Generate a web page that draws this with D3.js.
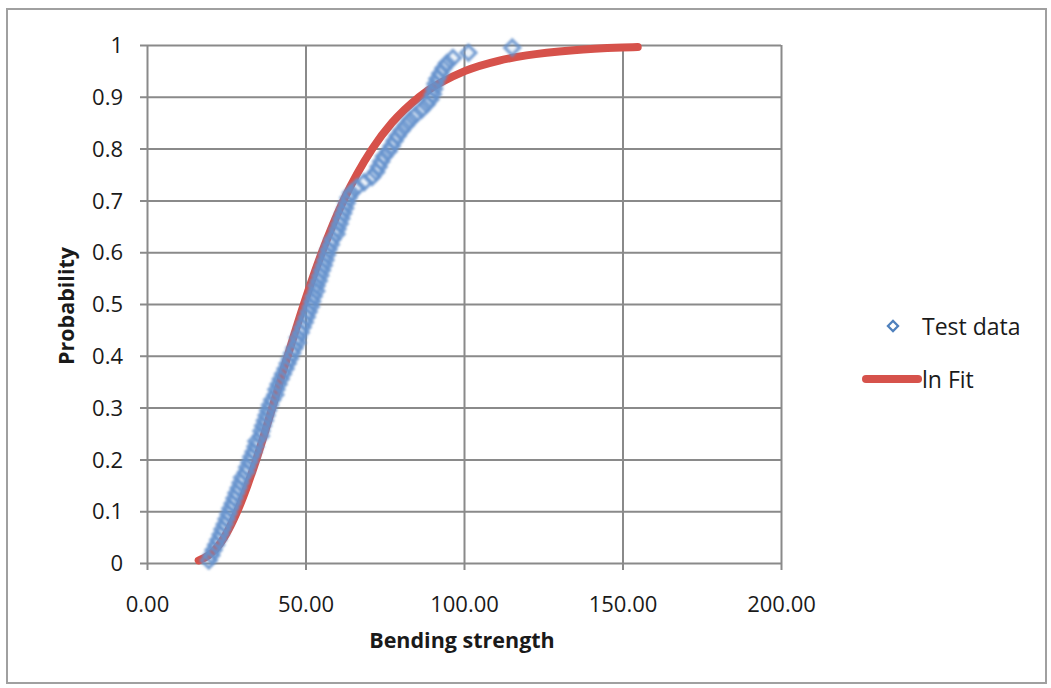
<!DOCTYPE html>
<html>
<head>
<meta charset="utf-8">
<script src="https://cdn.jsdelivr.net/npm/d3@7"></script>
<style>
  body { margin: 0; background: #fff; }
  text { font-family: "Open Sans", "DejaVu Sans", sans-serif; fill: #1a1a1a; }
  .axisTitle { font-weight: bold; }
</style>
</head>
<body>
<div id="chart"></div>
<script>
// Test data: bending strength and its rank probability
var strength = [
  19.5, 20.3, 21.0, 21.8, 22.5, 23.2, 23.8, 24.5, 25.1, 25.7,
  26.3, 27.0, 27.6, 28.2, 28.9, 29.5, 30.0, 31.2, 31.6, 32.3,
  32.9, 33.6, 34.2, 34.5, 35.9, 36.1, 36.6, 37.2, 37.7, 38.2,
  38.8, 39.5, 40.5, 40.8, 41.5, 42.2, 42.9, 43.7, 44.4, 45.1,
  45.8, 46.5, 47.5, 47.6, 48.5, 49.1, 49.8, 50.4, 51.0, 51.7,
  52.1, 52.6, 53.4, 53.5, 54.2, 54.7, 55.2, 55.8, 56.3, 56.8,
  57.3, 58.0, 58.5, 59.8, 60.1, 60.8, 61.3, 61.9, 62.5, 63.0,
  63.6, 64.4, 66.2, 68.5, 71.0, 72.3, 73.1, 73.9, 74.8, 76.2,
  77.2, 78.1, 79.1, 80.3, 81.7, 83.0, 84.7, 86.6, 88.2, 89.4,
  90.2, 90.6, 91.0, 91.6, 92.5, 93.5, 94.6, 96.5, 101.4, 115.2
];
var probability = [
  0.005, 0.015, 0.025, 0.035, 0.045, 0.055, 0.065, 0.075, 0.085, 0.095,
  0.105, 0.115, 0.125, 0.135, 0.145, 0.155, 0.165, 0.175, 0.185, 0.195,
  0.205, 0.215, 0.225, 0.235, 0.245, 0.255, 0.265, 0.275, 0.285, 0.295,
  0.305, 0.315, 0.325, 0.335, 0.345, 0.355, 0.365, 0.375, 0.385, 0.395,
  0.405, 0.415, 0.425, 0.435, 0.445, 0.455, 0.465, 0.475, 0.485, 0.495,
  0.505, 0.515, 0.525, 0.535, 0.545, 0.555, 0.565, 0.575, 0.585, 0.595,
  0.605, 0.615, 0.625, 0.635, 0.645, 0.655, 0.665, 0.675, 0.685, 0.695,
  0.705, 0.715, 0.725, 0.735, 0.745, 0.755, 0.765, 0.775, 0.785, 0.795,
  0.805, 0.815, 0.825, 0.835, 0.845, 0.855, 0.865, 0.875, 0.885, 0.895,
  0.905, 0.915, 0.925, 0.935, 0.945, 0.955, 0.965, 0.975, 0.985, 0.995
];

// ln fit curve
var fitStrength = [16.3, 18.2, 20.5, 24.4, 28.5, 31.7, 34.5, 39.5, 44.4, 49.5,
  55.2, 62.0, 71.1, 77.3, 85.9, 100.4, 111.1, 119.7, 134.6, 149.9, 154.8];
var fitProb = [0.005, 0.01, 0.02, 0.05, 0.1, 0.15, 0.2, 0.3, 0.4, 0.5,
  0.6, 0.7, 0.8, 0.85, 0.9, 0.95, 0.97, 0.98, 0.99, 0.995, 0.996];

var xTicks = [0, 50, 100, 150, 200];
var yTicks = [0, 0.1, 0.2, 0.3, 0.4, 0.5, 0.6, 0.7, 0.8, 0.9, 1];
var seriesNames = ["Test data", "ln Fit"];

var svgWidth = 1051;
var svgHeight = 688;

var margin = { top: 45, right: 270, bottom: 125, left: 147 };
var width = 781 - margin.left;
var height = 563 - margin.top;

var svg = d3.select("#chart")
  .append("svg")
  .attr("width", svgWidth)
  .attr("height", svgHeight);

// soft edge, the original is a scan
svg.append("defs").append("filter")
  .attr("id", "soft")
  .append("feGaussianBlur")
  .attr("stdDeviation", 0.9);

// outer frame
svg.append("rect")
  .attr("x", 7).attr("y", 9)
  .attr("width", 1039).attr("height", 674)
  .attr("fill", "#fff")
  .attr("stroke", "#a0a0a0")
  .attr("stroke-width", 2);

var chartGroup = svg.append("g")
  .attr("transform", `translate(${margin.left}, ${margin.top})`);

var xScale = d3.scaleLinear().domain([0, 200]).range([0, width]);
var yScale = d3.scaleLinear().domain([0, 1]).range([height, 0]);

var gridColor = "#8a8a8a";

// y axis + horizontal gridlines
var yAxis = chartGroup.append("g")
  .call(d3.axisLeft(yScale).tickValues(yTicks).tickSize(-width).tickSizeOuter(0)
    .tickFormat(d3.format("~g")).tickPadding(24));
yAxis.select(".domain").remove();
yAxis.selectAll(".tick line")
  .attr("x1", -7)
  .attr("stroke", gridColor)
  .attr("stroke-width", 2);
yAxis.selectAll(".tick text")
  .style("font-size", "22px")
  .attr("dy", "0.35em");

// x axis + vertical gridlines
var xAxis = chartGroup.append("g")
  .attr("transform", `translate(0, ${height})`)
  .call(d3.axisBottom(xScale).tickValues(xTicks).tickSize(-height).tickSizeOuter(0)
    .tickFormat(d3.format(".2f")).tickPadding(0));
xAxis.select(".domain").remove();
xAxis.selectAll(".tick line")
  .attr("y1", 7)
  .attr("stroke", gridColor)
  .attr("stroke-width", 2);
xAxis.selectAll(".tick text")
  .style("font-size", "22px")
  .attr("y", 0)
  .attr("dy", "49px");

// fit line
var fitData = fitStrength.map((v, i) => ({ x: v, p: fitProb[i] }));
var lineGen = d3.line()
  .x(d => xScale(d.x))
  .y(d => yScale(d.p))
  .curve(d3.curveMonotoneX);

var red = "#d6524b";
var blue = "#6592cc";

chartGroup.append("path")
  .datum(fitData)
  .attr("d", lineGen)
  .attr("fill", "none")
  .attr("stroke", red)
  .attr("stroke-width", 8)
  .attr("stroke-linecap", "round")
  .attr("stroke-linejoin", "round");

// test data markers
var testData = strength.map((v, i) => ({ x: v, p: probability[i] }));
var diamond = d3.symbol().type(d3.symbolSquare).size(112);

chartGroup.append("g")
  .attr("filter", "url(#soft)")
  .selectAll(".pt")
  .data(testData)
  .enter()
  .append("path")
  .attr("class", "pt")
  .attr("d", diamond)
  .attr("transform", d => `translate(${xScale(d.x)}, ${yScale(d.p)}) rotate(45)`)
  .attr("fill", blue)
  .attr("fill-opacity", 0.12)
  .attr("stroke", blue)
  .attr("stroke-width", 3.2)
  .attr("stroke-opacity", 0.85);

// axis titles
chartGroup.append("text")
  .attr("class", "axisTitle")
  .attr("transform", "rotate(-90)")
  .attr("x", -(height / 2) - 2)
  .attr("y", -73)
  .attr("text-anchor", "middle")
  .style("font-size", "21.5px")
  .text("Probability");

chartGroup.append("text")
  .attr("class", "axisTitle")
  .attr("x", xScale(100) - 2)
  .attr("y", height + 85)
  .attr("text-anchor", "middle")
  .style("font-size", "21.5px")
  .text("Bending strength");

// legend
var legend = svg.append("g").attr("transform", "translate(862, 0)");
legend.append("path")
  .attr("d", d3.symbol().type(d3.symbolSquare).size(52))
  .attr("transform", "translate(31, 326) rotate(45)")
  .attr("fill", "#fff")
  .attr("stroke", "#4f81bd")
  .attr("stroke-width", 2.2);
legend.append("text")
  .attr("x", 60).attr("y", 335)
  .style("font-size", "23px")
  .text(seriesNames[0]);

legend.append("line")
  .attr("x1", 4).attr("x2", 56)
  .attr("y1", 379).attr("y2", 379)
  .attr("stroke", red)
  .attr("stroke-width", 8)
  .attr("stroke-linecap", "round");
legend.append("text")
  .attr("x", 60).attr("y", 388)
  .style("font-size", "23px")
  .text(seriesNames[1]);
</script>
</body>
</html>
